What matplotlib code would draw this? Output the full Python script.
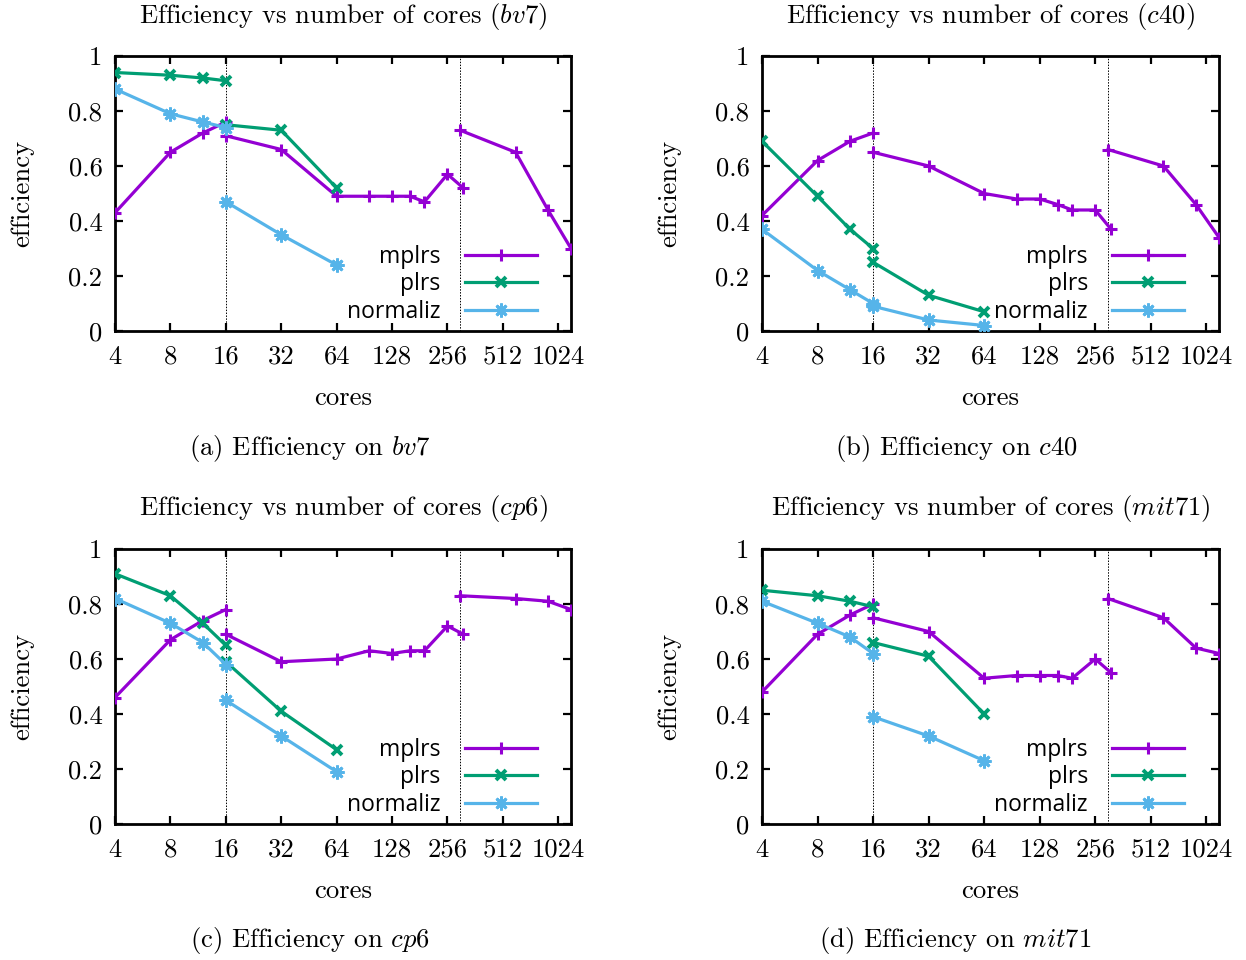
import matplotlib
matplotlib.use("Agg")
import matplotlib.pyplot as plt
from matplotlib.lines import Line2D

plt.rcParams["mathtext.fontset"] = "cm"
plt.rcParams["font.family"] = "cmr10"
plt.rcParams["axes.formatter.use_mathtext"] = True

# ---------------- data ----------------
cores_single = [4, 8, 12, 16]
cores_cluster = [16, 32, 64, 96, 128, 160, 192, 256, 312]
cores_cloud = [300, 600, 900, 1200]
cores_solver = [16, 32, 64]

xtick_values = [4, 8, 16, 32, 64, 128, 256, 512, 1024]
xtick_labels = ["4", "8", "16", "32", "64", "128", "256", "512", "1024"]
ytick_values = [0, 0.2, 0.4, 0.6, 0.8, 1.0]
ytick_labels = ["0", "0.2", "0.4", "0.6", "0.8", "1"]
separators = [16, 300]

series_names = ["mplrs", "plrs", "normaliz"]
instances = ["bv7", "c40", "cp6", "mit71"]
panel_letters = ["a", "b", "c", "d"]

bv7_mplrs_single = [0.43, 0.65, 0.72, 0.76]
bv7_mplrs_cluster = [0.71, 0.66, 0.49, 0.49, 0.49, 0.49, 0.47, 0.57, 0.52]
bv7_mplrs_cloud = [0.73, 0.65, 0.44, 0.30]
bv7_plrs_single = [0.94, 0.93, 0.92, 0.91]
bv7_plrs_cluster = [0.75, 0.73, 0.52]
bv7_norm_single = [0.88, 0.79, 0.76, 0.74]
bv7_norm_cluster = [0.47, 0.35, 0.24]

c40_mplrs_single = [0.42, 0.62, 0.69, 0.72]
c40_mplrs_cluster = [0.65, 0.60, 0.50, 0.48, 0.48, 0.46, 0.44, 0.44, 0.37]
c40_mplrs_cloud = [0.66, 0.60, 0.46, 0.34]
c40_plrs_single = [0.69, 0.49, 0.37, 0.30]
c40_plrs_cluster = [0.25, 0.13, 0.07]
c40_norm_single = [0.37, 0.22, 0.15, 0.10]
c40_norm_cluster = [0.09, 0.04, 0.02]

cp6_mplrs_single = [0.46, 0.67, 0.74, 0.78]
cp6_mplrs_cluster = [0.69, 0.59, 0.60, 0.63, 0.62, 0.63, 0.63, 0.72, 0.69]
cp6_mplrs_cloud = [0.83, 0.82, 0.81, 0.78]
cp6_plrs_single = [0.91, 0.83, 0.73, 0.65]
cp6_plrs_cluster = [0.59, 0.41, 0.27]
cp6_norm_single = [0.82, 0.73, 0.66, 0.58]
cp6_norm_cluster = [0.45, 0.32, 0.19]

mit71_mplrs_single = [0.48, 0.69, 0.76, 0.80]
mit71_mplrs_cluster = [0.75, 0.70, 0.53, 0.54, 0.54, 0.54, 0.53, 0.60, 0.55]
mit71_mplrs_cloud = [0.82, 0.75, 0.64, 0.62]
mit71_plrs_single = [0.85, 0.83, 0.81, 0.79]
mit71_plrs_cluster = [0.66, 0.61, 0.40]
mit71_norm_single = [0.81, 0.73, 0.68, 0.62]
mit71_norm_cluster = [0.39, 0.32, 0.23]

panel_data = {
    "bv7": (bv7_mplrs_single, bv7_mplrs_cluster, bv7_mplrs_cloud,
            bv7_plrs_single, bv7_plrs_cluster, bv7_norm_single, bv7_norm_cluster),
    "c40": (c40_mplrs_single, c40_mplrs_cluster, c40_mplrs_cloud,
            c40_plrs_single, c40_plrs_cluster, c40_norm_single, c40_norm_cluster),
    "cp6": (cp6_mplrs_single, cp6_mplrs_cluster, cp6_mplrs_cloud,
            cp6_plrs_single, cp6_plrs_cluster, cp6_norm_single, cp6_norm_cluster),
    "mit71": (mit71_mplrs_single, mit71_mplrs_cluster, mit71_mplrs_cloud,
              mit71_plrs_single, mit71_plrs_cluster, mit71_norm_single, mit71_norm_cluster),
}

# ---------------- style ----------------
W, H = 1246, 960
C_MPLRS = "#9400D3"
C_PLRS = "#009E73"
C_NORM = "#56B4E9"
LW = 2.3
FS = 19.2

fig = plt.figure(figsize=(W / 100, H / 100), dpi=100)

# pixel boxes: (left, top, right, bottom)
boxes = [(115, 56, 571, 331), (762, 56, 1219, 331),
         (115, 549, 571, 824), (762, 549, 1219, 824)]
caption_cx = [310, 956, 310, 955]


def fx(px):
    return px / W


def fy(py):
    return 1 - py / H


star = (8, 2, 0)

for inst, letter, box, ccx in zip(instances, panel_letters, boxes, caption_cx):
    l, t, r, b = box
    ax = fig.add_axes([fx(l), fy(b), fx(r - l), (b - t) / H])
    ms, mc, mcl, ps, pc, ns, nc = panel_data[inst]

    for s in separators:
        ax.axvline(s, color="black", lw=0.7, ls=(0, (1.5, 1.5)), zorder=1)

    kw_m = dict(color=C_MPLRS, lw=LW, marker="+", ms=8, mew=2.2, zorder=3)
    kw_p = dict(color=C_PLRS, lw=LW, marker="x", ms=7, mew=2.8, zorder=3)
    kw_n = dict(color=C_NORM, lw=LW, marker=star, ms=10, mew=2.0, zorder=3)

    ax.plot(cores_single, ms, **kw_m)
    ax.plot(cores_cluster, mc, **kw_m)
    ax.plot(cores_cloud, mcl, **kw_m)
    ax.plot(cores_single, ps, **kw_p)
    ax.plot(cores_solver, pc, **kw_p)
    ax.plot(cores_single, ns, **kw_n)
    ax.plot(cores_solver, nc, **kw_n)

    ax.set_xscale("log", base=2)
    ax.set_xlim(4, 1200)
    ax.set_ylim(0, 1)
    ax.set_xticks(xtick_values)
    ax.set_xticklabels(xtick_labels)
    ax.minorticks_off()
    ax.set_yticks(ytick_values)
    ax.set_yticklabels(ytick_labels)
    ax.tick_params(direction="in", length=6, width=1.6, top=True, right=True,
                   labelsize=FS)
    ax.tick_params(axis="x", pad=10)
    ax.tick_params(axis="y", pad=9)
    for sp in ax.spines.values():
        sp.set_linewidth(2.0)

    handles = [Line2D([], [], **{k: v for k, v in kw.items() if k != "zorder"})
               for kw in (kw_m, kw_p, kw_n)]
    ax.legend(handles, series_names, loc="lower right",
              bbox_to_anchor=(422 / (r - l), 7 / (b - t)),
              markerfirst=False, frameon=False, borderpad=0, borderaxespad=0,
              handlelength=3.15, handletextpad=1.05, labelspacing=0.16,
              numpoints=1, prop={"family": "Open Sans", "size": 16.5})

    cx = (l + r) / 2
    fig.text(fx(cx), fy(t - 40), "Efficiency vs number of cores ($\\mathit{%s}$)" % inst,
             ha="center", va="center", fontsize=FS)
    fig.text(fx(cx), fy(b + 67), "cores", ha="center", va="center", fontsize=FS)
    fig.text(fx(l - 93), fy((t + b) / 2), "efficiency", ha="center", va="center",
             rotation=90, fontsize=FS)
    fig.text(fx(ccx), fy(b + 117), "(%s) Efficiency on $\\mathit{%s}$" % (letter, inst),
             ha="center", va="center", fontsize=FS)

fig.savefig("out.png", dpi=100)
